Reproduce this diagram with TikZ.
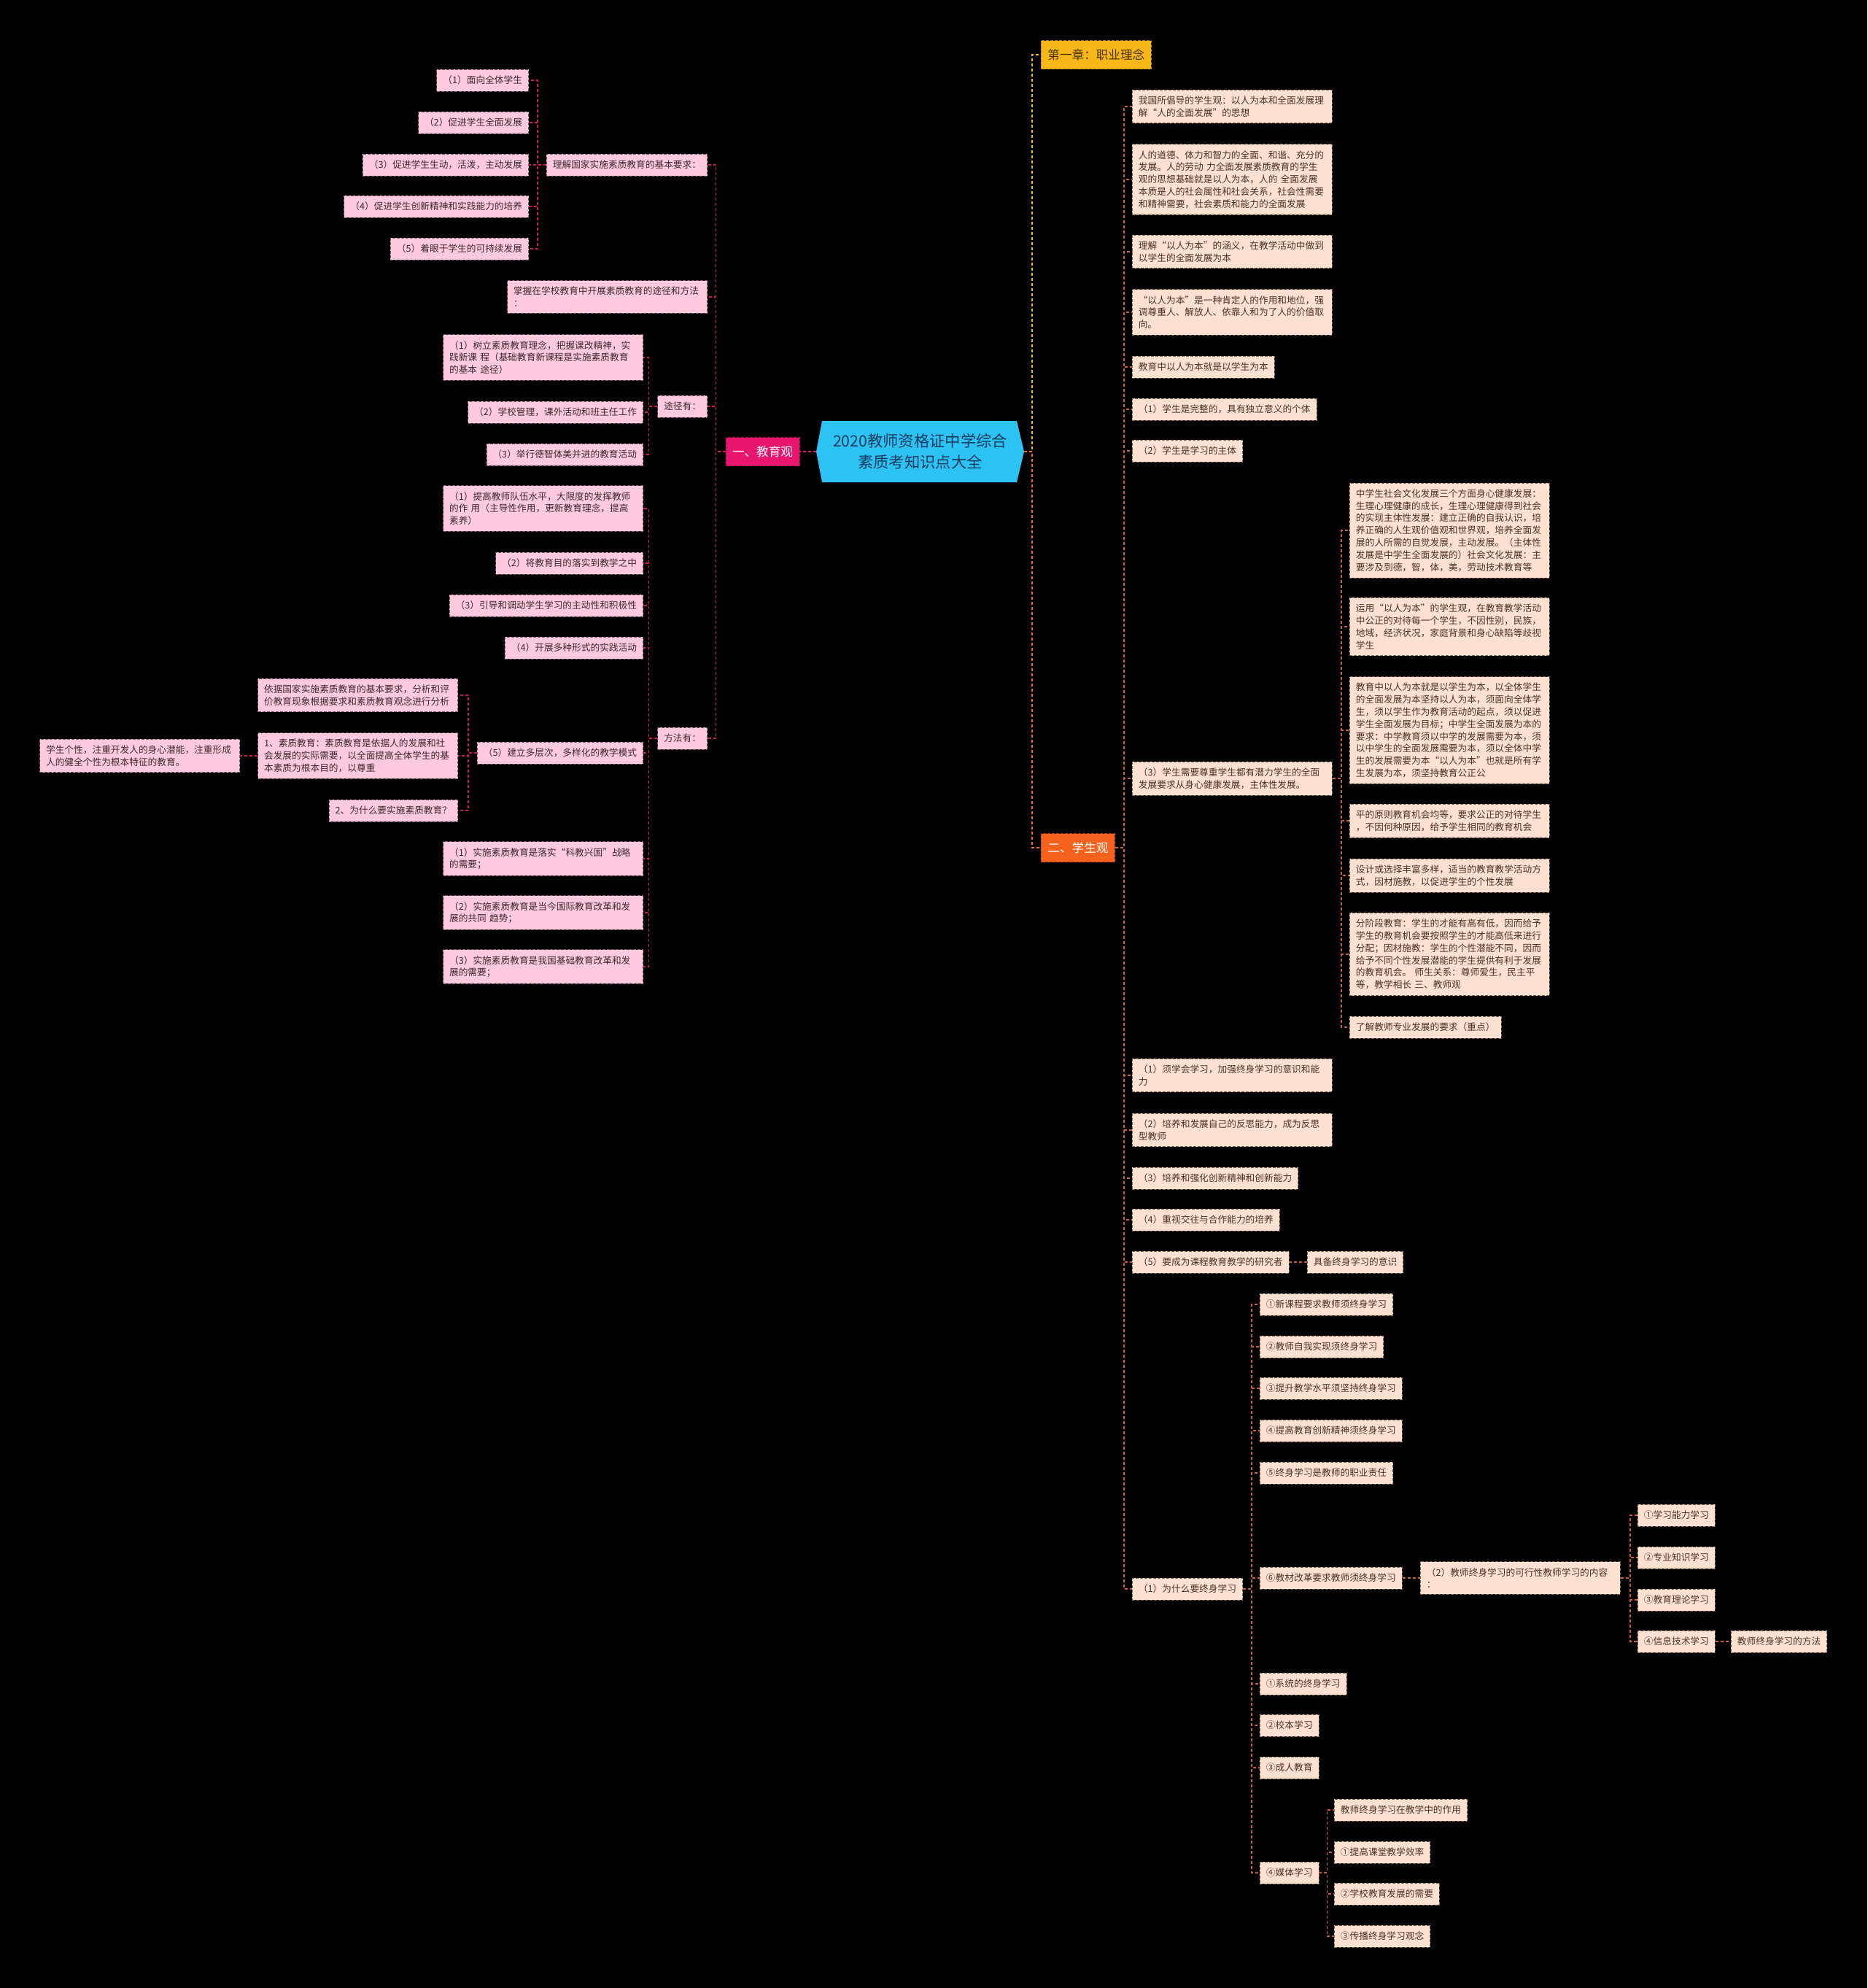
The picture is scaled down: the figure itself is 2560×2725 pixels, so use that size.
\documentclass[tikz,border=0pt]{standalone}
\usepackage{fontspec}
\setmainfont{Noto Sans CJK SC}
\usepackage{xcolor}
\definecolor{bgblack}{HTML}{000000}
\definecolor{rootcyan}{HTML}{2CC3F2}
\definecolor{rootink}{HTML}{173A60}
\definecolor{edupink}{HTML}{E8166F}
\definecolor{stuorange}{HTML}{F4621E}
\definecolor{chapyellow}{HTML}{F7B718}
\definecolor{chapink}{HTML}{4A3300}
\definecolor{pinkfill}{HTML}{FFC9DF}
\definecolor{pinkedge}{HTML}{7E5666}
\definecolor{pinkink}{HTML}{3A2A30}
\definecolor{peachfill}{HTML}{FCE1D0}
\definecolor{peachedge}{HTML}{7E6050}
\definecolor{peachink}{HTML}{4A3226}
\definecolor{magline}{HTML}{D0185E}
\definecolor{rustline}{HTML}{C9623A}
\definecolor{spineorange}{HTML}{F26B1D}
\definecolor{spineyellow}{HTML}{F5B800}

\newcommand\smallcn{\fontsize{12.7pt}{16.8pt}\selectfont}
\newcommand\headcn{\fontsize{16.6pt}{20pt}\selectfont}
\newcommand\rootcn{\fontsize{21.3pt}{28.6pt}\selectfont}

\tikzset{
  leaf/.style={dash pattern=on 4pt off 2pt, line width=0.9pt, font=\smallcn,
    inner xsep=8.5pt, inner ysep=8.5pt, minimum height=30pt},
  pinkbox/.style={leaf, draw=pinkedge, fill=pinkfill, text=pinkink},
  peachbox/.style={leaf, draw=peachedge, fill=peachfill, text=peachink},
  widebox/.style={text width=257pt, align=left},
  headbox/.style={dash pattern=on 4pt off 2pt, line width=0.9pt, font=\headcn,
    inner xsep=9pt, minimum height=39pt},
  lline/.style={draw=magline, dash pattern=on 4pt off 3pt, line width=1.5pt},
  rline/.style={draw=rustline, dash pattern=on 4pt off 3pt, line width=1.5pt},
}

\begin{document}
\begin{tikzpicture}[x=1pt,y=-1pt]

\useasboundingbox (0,0) rectangle (2560,2725);
\fill[bgblack] (0,0) rectangle (2560,2725);

% root
\fill[rootcyan] (1127,577) -- (1394,577) -- (1404,619) -- (1394,661)
  -- (1127,661) -- (1119,619) -- cycle;
\node[font=\rootcn, text=rootink, align=center, minimum width=285pt,
  minimum height=84pt, inner sep=0pt] (root) at (1261.5,619)
  {2020教师资格证中学综合\\素质考知识点大全};

\node[headbox, draw=edupink!70!black, fill=edupink, text=white] (edu)
  at (1045.5,619) {一、教育观};
\node[headbox, draw=chapyellow!70!black, fill=chapyellow, text=chapink,
  anchor=west] (chap) at (1427,75) {第一章：职业理念};
\node[headbox, draw=stuorange!70!black, fill=stuorange, text=white,
  anchor=west] (stu) at (1427,1162) {二、学生观};

\draw[lline, draw=edupink] (root.west) -- (edu.east);
\draw[dash pattern=on 4pt off 3pt, line width=1.5pt, draw=spineyellow]
  (root.east) -- ++(11,0) |- (chap.west);
\draw[dash pattern=on 4pt off 3pt, line width=1.5pt, draw=spineorange]
  (root.east) -- ++(11,0) |- (stu.west);

% ---- 一、教育观
\node[pinkbox, anchor=east] (l1) at (970,226) {理解国家实施素质教育的基本要求：};
\node[pinkbox, widebox, anchor=east] (l2) at (970,407)
  {掌握在学校教育中开展素质教育的途径和方法\\：};
\node[pinkbox, anchor=east] (l3) at (970,557) {途径有：};
\node[pinkbox, anchor=east] (l4) at (970,1012) {方法有：};
\foreach \nm in {l1,l2,l3,l4}
  \draw[lline] (edu.west) -- ++(-13,0) |- (\nm.east);

\foreach \nm/\yy/\txt in {a1/110/（1）面向全体学生, a2/168/（2）促进学生全面发展,
    a3/226/（3）促进学生生动，活泼，主动发展, a4/283/（4）促进学生创新精神和实践能力的培养,
    a5/341/（5）着眼于学生的可持续发展}{
  \node[pinkbox, anchor=east] (\nm) at (725,\yy) {\txt};
  \draw[lline] (l1.west) -- ++(-12,0) |- (\nm.east);
}

% ways
\node[pinkbox, widebox, anchor=east] (b1) at (882,490)
  {（1）树立素质教育理念，把握课改精神，实\\践新课~程（基础教育新课程是实施素质教育\\的基本~途径）};
\node[pinkbox, anchor=east] (b2) at (882,565) {（2）学校管理，课外活动和班主任工作};
\node[pinkbox, anchor=east] (b3) at (882,623) {（3）举行德智体美并进的教育活动};
\foreach \nm in {b1,b2,b3}
  \draw[lline] (l3.west) -- ++(-12,0) |- (\nm.east);

% methods
\node[pinkbox, widebox, anchor=east] (c1) at (882,697)
  {（1）提高教师队伍水平，大限度的发挥教师\\的作~用（主导性作用，更新教育理念，提高\\素养）};
\foreach \nm/\yy/\txt in {c2/772/（2）将教育目的落实到教学之中,
    c3/830/（3）引导和调动学生学习的主动性和积极性,
    c4/888/（4）开展多种形式的实践活动, c5/1032/（5）建立多层次，多样化的教学模式}{
  \node[pinkbox, anchor=east] (\nm) at (882,\yy) {\txt};
}
\node[pinkbox, widebox, anchor=east] (c6) at (882,1177)
  {（1）实施素质教育是落实“科教兴国”战略\\的需要；};
\node[pinkbox, widebox, anchor=east] (c7) at (882,1251)
  {（2）实施素质教育是当今国际教育改革和发\\展的共同~趋势；};
\node[pinkbox, widebox, anchor=east] (c8) at (882,1325)
  {（3）实施素质教育是我国基础教育改革和发\\展的需要；};
\foreach \nm in {c1,c2,c3,c4,c5,c6,c7,c8}
  \draw[lline] (l4.west) -- ++(-12,0) |- (\nm.east);

\node[pinkbox, widebox, anchor=east] (d1) at (628,953)
  {依据国家实施素质教育的基本要求，分析和评\\价教育现象根据要求和素质教育观念进行分析};
\node[pinkbox, widebox, anchor=east] (d2) at (628,1036)
  {1、素质教育：素质教育是依据人的发展和社\\会发展的实际需要，以全面提高全体学生的基\\本素质为根本目的，以尊重};
\node[pinkbox, anchor=east] (d3) at (628,1111) {2、为什么要实施素质教育？};
\foreach \nm in {d1,d2,d3}
  \draw[lline] (c5.west) -- ++(-12,0) |- (\nm.east);
\node[pinkbox, widebox, anchor=east] (e1) at (329,1036)
  {学生个性，注重开发人的身心潜能，注重形成\\人的健全个性为根本特征的教育。};
\draw[lline] (d2.west) -- (e1.east);

% ---- 二、学生观
\node[peachbox, widebox, anchor=west] (s1) at (1552,146)
  {我国所倡导的学生观：以人为本和全面发展理\\解“人的全面发展”的思想};
\node[peachbox, widebox, anchor=west] (s2) at (1552,246)
  {人的道德、体力和智力的全面、和谐、充分的\\发展。人的劳动~力全面发展素质教育的学生\\观的思想基础就是以人为本，人的~全面发展\\本质是人的社会属性和社会关系，社会性需要\\和精神需要，社会素质和能力的全面发展};
\node[peachbox, widebox, anchor=west] (s3) at (1552,345)
  {理解“以人为本”的涵义，在教学活动中做到\\以学生的全面发展为本};
\node[peachbox, widebox, anchor=west] (s4) at (1552,428)
  {“以人为本”是一种肯定人的作用和地位，强\\调尊重人、解放人、依靠人和为了人的价值取\\向。};
\foreach \nm/\yy/\txt in {s5/503/教育中以人为本就是以学生为本,
    s6/561/（1）学生是完整的，具有独立意义的个体, s7/618/（2）学生是学习的主体}{
  \node[peachbox, anchor=west] (\nm) at (1552,\yy) {\txt};
}
\node[peachbox, widebox, anchor=west] (s8) at (1552,1067)
  {（3）学生需要尊重学生都有潜力学生的全面\\发展要求从身心健康发展，主体性发展。};
\node[peachbox, widebox, anchor=west] (s9) at (1552,1474)
  {（1）须学会学习，加强终身学习的意识和能\\力};
\node[peachbox, widebox, anchor=west] (s10) at (1552,1549)
  {（2）培养和发展自己的反思能力，成为反思\\型教师};
\foreach \nm/\yy/\txt in {s11/1615/（3）培养和强化创新精神和创新能力,
    s12/1672/（4）重视交往与合作能力的培养, s13/1730/（5）要成为课程教育教学的研究者,
    s14/2178/（1）为什么要终身学习}{
  \node[peachbox, anchor=west] (\nm) at (1552,\yy) {\txt};
}
\foreach \nm in {s1,s2,s3,s4,s5,s6,s7,s8,s9,s10,s11,s12,s13,s14}
  \draw[rline] (stu.east) -- ++(12,0) |- (\nm.west);

\node[peachbox, widebox, anchor=west] (t1) at (1850,727)
  {中学生社会文化发展三个方面身心健康发展：\\生理心理健康的成长，生理心理健康得到社会\\的实现主体性发展：建立正确的自我认识，培\\养正确的人生观价值观和世界观，培养全面发\\展的人所需的自觉发展，主动发展。（主体性\\发展是中学生全面发展的）社会文化发展：主\\要涉及到德，智，体，美，劳动技术教育等};
\node[peachbox, widebox, anchor=west] (t2) at (1850,859)
  {运用“以人为本”的学生观，在教育教学活动\\中公正的对待每一个学生，不因性别，民族，\\地域，经济状况，家庭背景和身心缺陷等歧视\\学生};
\node[peachbox, widebox, anchor=west] (t3) at (1850,1001)
  {教育中以人为本就是以学生为本，以全体学生\\的全面发展为本坚持以人为本，须面向全体学\\生，须以学生作为教育活动的起点，须以促进\\学生全面发展为目标；中学生全面发展为本的\\要求：中学教育须以中学的发展需要为本，须\\以中学生的全面发展需要为本，须以全体中学\\生的发展需要为本“以人为本”也就是所有学\\生发展为本，须坚持教育公正公};
\node[peachbox, widebox, anchor=west] (t4) at (1850,1125)
  {平的原则教育机会均等，要求公正的对待学生\\，不因何种原因，给予学生相同的教育机会};
\node[peachbox, widebox, anchor=west] (t5) at (1850,1200)
  {设计或选择丰富多样，适当的教育教学活动方\\式，因材施教，以促进学生的个性发展};
\node[peachbox, widebox, anchor=west] (t6) at (1850,1308)
  {分阶段教育：学生的才能有高有低，因而给予\\学生的教育机会要按照学生的才能高低来进行\\分配；因材施教：学生的个性潜能不同，因而\\给予不同个性发展潜能的学生提供有利于发展\\的教育机会。~师生关系：尊师爱生，民主平\\等，教学相长~三、教师观};
\node[peachbox, anchor=west] (t7) at (1850,1408) {了解教师专业发展的要求（重点）};
\foreach \nm in {t1,t2,t3,t4,t5,t6,t7}
  \draw[rline] (s8.east) -- ++(12,0) |- (\nm.west);

\node[peachbox, anchor=west] (s13a) at (1792,1730) {具备终身学习的意识};
\draw[rline] (s13.east) -- (s13a.west);

% lifelong learning
\foreach \nm/\yy/\txt in {u1/1788/①新课程要求教师须终身学习, u2/1846/②教师自我实现须终身学习,
    u3/1903/③提升教学水平须坚持终身学习, u4/1961/④提高教育创新精神须终身学习,
    u5/2019/⑤终身学习是教师的职业责任, u6/2163/⑥教材改革要求教师须终身学习,
    u7/2308/①系统的终身学习, u8/2365/②校本学习, u9/2423/③成人教育, u10/2567/④媒体学习}{
  \node[peachbox, anchor=west] (\nm) at (1727,\yy) {\txt};
  \draw[rline] (s14.east) -- ++(12,0) |- (\nm.west);
}

\node[peachbox, widebox, anchor=west] (v1) at (1947,2163)
  {（2）教师终身学习的可行性教师学习的内容\\：};
\draw[rline] (u6.east) -- (v1.west);
\foreach \nm/\yy/\txt in {w1/2077/①学习能力学习, w2/2135/②专业知识学习,
    w3/2193/③教育理论学习, w4/2250/④信息技术学习}{
  \node[peachbox, anchor=west] (\nm) at (2245,\yy) {\txt};
  \draw[rline] (v1.east) -- ++(13,0) |- (\nm.west);
}
\node[peachbox, anchor=west] (w5) at (2373,2250) {教师终身学习的方法};
\draw[rline] (w4.east) -- (w5.west);

\foreach \nm/\yy/\txt in {x1/2481/教师终身学习在教学中的作用, x2/2539/①提高课堂教学效率,
    x3/2596/②学校教育发展的需要, x4/2654/③传播终身学习观念}{
  \node[peachbox, anchor=west] (\nm) at (1829,\yy) {\txt};
  \draw[rline] (u10.east) -- ++(11,0) |- (\nm.west);
}

\end{tikzpicture}
\end{document}
